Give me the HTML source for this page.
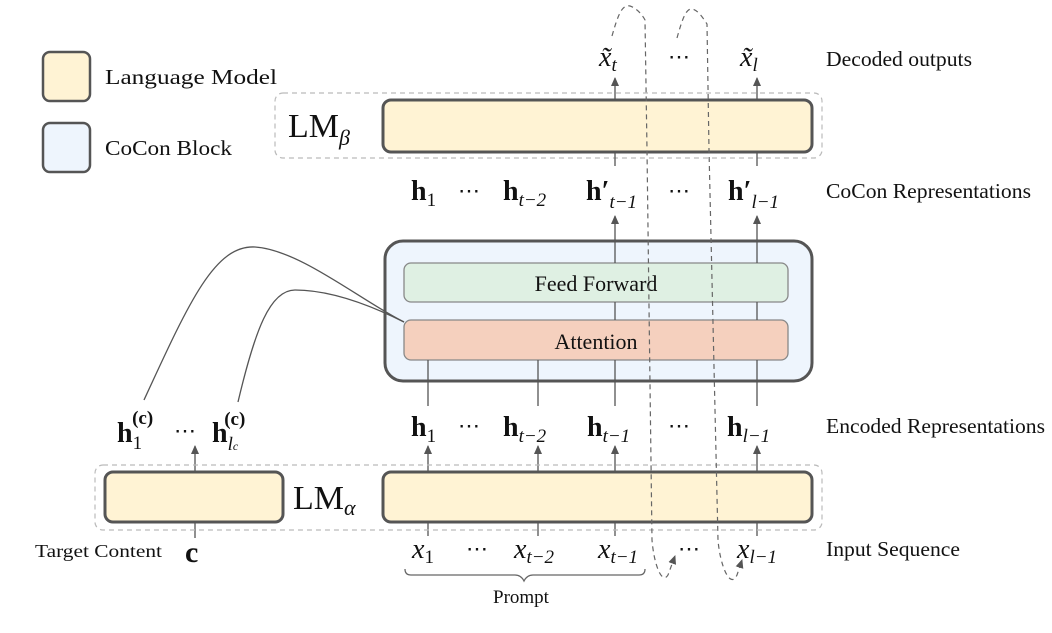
<!DOCTYPE html>
<html><head><meta charset="utf-8"><style>
html,body{margin:0;padding:0;background:#fff;}
svg{display:block;}
.m{font-family:"Liberation Serif",serif;font-size:28px;fill:#111;}
.b{font-weight:bold;}
.i{font-style:italic;}
.s{font-size:19px;font-weight:normal;}
.d{font-family:"Liberation Serif",serif;font-size:22px;fill:#111;}
.lab{font-family:"Liberation Serif",serif;font-size:21px;fill:#111;}
</style></head><body>
<svg width="1052" height="633" viewBox="0 0 1052 633" xmlns="http://www.w3.org/2000/svg">
<defs>
<marker id="a" markerWidth="9" markerHeight="8" refX="8" refY="4" orient="auto" markerUnits="userSpaceOnUse" viewBox="0 0 9 8"><path d="M0,0 L9,4 L0,8 Z" fill="#555"/></marker>
</defs>
<!-- legend -->
<rect x="43" y="52" width="47" height="49" rx="7" fill="#fff3d4" stroke="#555" stroke-width="2.5"/>
<text x="105" y="84" class="lab" textLength="172" lengthAdjust="spacingAndGlyphs">Language Model</text>
<rect x="43" y="123" width="47" height="49" rx="7" fill="#eef5fd" stroke="#555" stroke-width="2.5"/>
<text x="105" y="155" class="lab" textLength="127" lengthAdjust="spacingAndGlyphs">CoCon Block</text>

<!-- LM beta -->
<rect x="275" y="93" width="547" height="65" rx="8" fill="none" stroke="#bbb" stroke-width="1.2" stroke-dasharray="5,4"/>
<rect x="383" y="100" width="429" height="52" rx="8" fill="#fff3d4" stroke="#555" stroke-width="3"/>
<text x="288" y="137" class="m" style="font-size:34px">LM<tspan class="i" style="font-size:22px" dy="8">β</tspan></text>

<g stroke="#555" stroke-width="1.3" fill="none">
<line x1="615" y1="100" x2="615" y2="78" marker-end="url(#a)"/>
<line x1="757" y1="100" x2="757" y2="78" marker-end="url(#a)"/>
<line x1="615" y1="152" x2="615" y2="166"/>
<line x1="757" y1="152" x2="757" y2="166"/>
<line x1="615" y1="241" x2="615" y2="216" marker-end="url(#a)"/>
<line x1="757" y1="241" x2="757" y2="216" marker-end="url(#a)"/>
</g>
<text x="599" y="66" class="m i">x̃<tspan class="s" dy="5">t</tspan></text>
<text x="668" y="64" class="d">⋯</text>
<text x="740" y="66" class="m i">x̃<tspan class="s" dy="5">l</tspan></text>
<text x="826" y="66" class="lab" textLength="146" lengthAdjust="spacingAndGlyphs">Decoded outputs</text>

<!-- CoCon reps -->
<text x="411" y="200" class="m b">h<tspan class="s" dy="6">1</tspan></text>
<text x="458" y="198" class="d">⋯</text>
<text x="503" y="200" class="m b">h<tspan class="s i" dy="6">t−2</tspan></text>
<text x="586" y="200" class="m b">h′<tspan class="s i" dy="8">t−1</tspan></text>
<text x="668" y="198" class="d">⋯</text>
<text x="728" y="200" class="m b">h′<tspan class="s i" dy="8">l−1</tspan></text>
<text x="826" y="198" class="lab" textLength="205" lengthAdjust="spacingAndGlyphs">CoCon Representations</text>

<!-- CoCon block -->
<rect x="385" y="241" width="427" height="140" rx="18" fill="#eef5fd" stroke="#555" stroke-width="3"/>
<rect x="404" y="263" width="384" height="39" rx="7" fill="#dff0e3" stroke="#888" stroke-width="1.3"/>
<text x="596" y="291" class="lab" text-anchor="middle" style="font-size:22px">Feed Forward</text>
<rect x="404" y="320" width="384" height="40" rx="7" fill="#f5d0be" stroke="#888" stroke-width="1.3"/>
<text x="596" y="349" class="lab" text-anchor="middle" style="font-size:22px">Attention</text>
<g stroke="#555" stroke-width="1.3" fill="none">
<line x1="615" y1="302" x2="615" y2="320"/><line x1="757" y1="302" x2="757" y2="320"/>
<line x1="615" y1="241" x2="615" y2="263"/><line x1="757" y1="241" x2="757" y2="263"/>
<line x1="428" y1="360" x2="428" y2="406"/><line x1="538" y1="360" x2="538" y2="406"/>
<line x1="615" y1="360" x2="615" y2="406"/><line x1="757" y1="360" x2="757" y2="406"/>
<path d="M144,400 C190,300 215,245 255,247 C300,250 360,300 404,322"/>
<path d="M238,402 C255,330 270,290 295,290 C330,290 370,305 404,322"/>
</g>

<!-- encoded -->
<text x="411" y="436" class="m b">h<tspan class="s" dy="6">1</tspan></text>
<text x="458" y="433" class="d">⋯</text>
<text x="503" y="436" class="m b">h<tspan class="s i" dy="6">t−2</tspan></text>
<text x="587" y="436" class="m b">h<tspan class="s i" dy="6">t−1</tspan></text>
<text x="668" y="433" class="d">⋯</text>
<text x="727" y="436" class="m b">h<tspan class="s i" dy="6">l−1</tspan></text>
<text x="826" y="433" class="lab" textLength="219" lengthAdjust="spacingAndGlyphs">Encoded Representations</text>
<text x="117" y="442" class="m b">h<tspan class="s" dy="7">1</tspan><tspan class="s b" style="font-weight:bold" dx="-10" dy="-25">(c)</tspan></text>
<text x="174" y="438" class="d">⋯</text>
<text x="212" y="442" class="m b">h<tspan class="s i" dy="8">l<tspan style="font-size:12px">c</tspan></tspan><tspan class="s" style="font-weight:bold" dx="-14" dy="-25">(c)</tspan></text>

<g stroke="#555" stroke-width="1.3" fill="none">
<line x1="428" y1="472" x2="428" y2="446" marker-end="url(#a)"/>
<line x1="538" y1="472" x2="538" y2="446" marker-end="url(#a)"/>
<line x1="615" y1="472" x2="615" y2="446" marker-end="url(#a)"/>
<line x1="757" y1="472" x2="757" y2="446" marker-end="url(#a)"/>
<line x1="195" y1="472" x2="195" y2="446" marker-end="url(#a)"/>
<line x1="428" y1="522" x2="428" y2="536"/><line x1="538" y1="522" x2="538" y2="536"/>
<line x1="615" y1="522" x2="615" y2="536"/><line x1="757" y1="522" x2="757" y2="536"/>
<line x1="195" y1="522" x2="195" y2="538"/>
</g>

<!-- LM alpha -->
<rect x="95" y="465" width="727" height="65" rx="8" fill="none" stroke="#bbb" stroke-width="1.2" stroke-dasharray="5,4"/>
<rect x="105" y="472" width="178" height="50" rx="8" fill="#fff3d4" stroke="#555" stroke-width="3"/>
<rect x="383" y="472" width="429" height="50" rx="8" fill="#fff3d4" stroke="#555" stroke-width="3"/>
<text x="293" y="509" class="m" style="font-size:34px">LM<tspan class="i" style="font-size:22px" dy="6">α</tspan></text>

<!-- inputs -->
<text x="35" y="557" class="lab" style="font-size:18px" textLength="127" lengthAdjust="spacingAndGlyphs">Target Content</text>
<text x="185" y="562" class="m b" style="font-size:30px">c</text>
<text x="412" y="558" class="m i">x<tspan class="s" style="font-style:normal" dy="5">1</tspan></text>
<text x="466" y="556" class="d">⋯</text>
<text x="514" y="558" class="m i">x<tspan class="s" dy="5">t−2</tspan></text>
<text x="598" y="558" class="m i">x<tspan class="s" dy="5">t−1</tspan></text>
<text x="678" y="556" class="d">⋯</text>
<text x="737" y="558" class="m i">x<tspan class="s" dy="5">l−1</tspan></text>
<text x="826" y="556" class="lab" textLength="134" lengthAdjust="spacingAndGlyphs">Input Sequence</text>
<path d="M405,569 q0,6 6,6 h104 q6,0 9,6 q3,-6 9,-6 h106 q6,0 6,-6" fill="none" stroke="#666" stroke-width="1.3"/>
<text x="493" y="603" class="lab" style="font-size:19px">Prompt</text>

<!-- dashed loops -->
<g stroke="#666" stroke-width="1.2" fill="none" stroke-dasharray="5,4">
<path d="M612,36 C618,15 622,4 630,6 C636,8 642,14 645,20 L647,150 L652,540 C654,565 662,585 668,575 L675,556" marker-end="url(#a)"/>
<path d="M677,38 C682,20 686,8 692,9 C698,10 703,18 707,24 L709,150 L718,540 C720,565 730,590 737,575 L742,560" marker-end="url(#a)"/>
</g>
</svg>
</body></html>
